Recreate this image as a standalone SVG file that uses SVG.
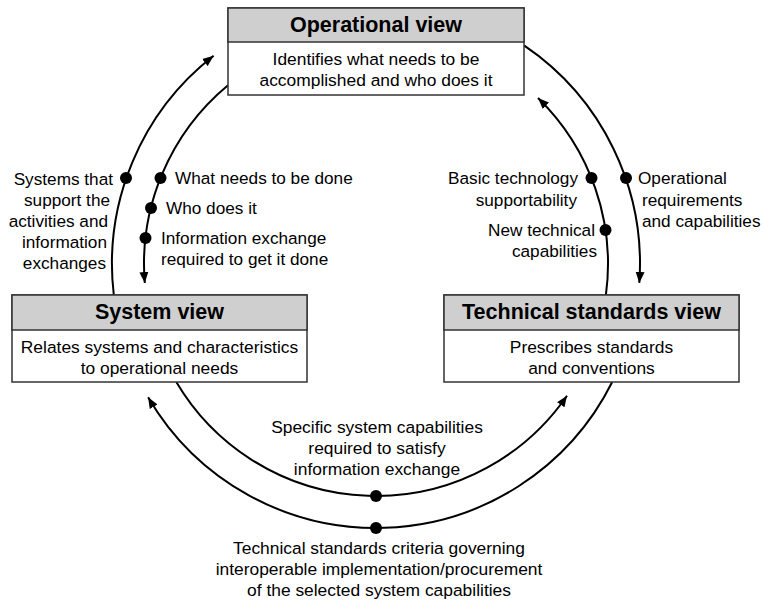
<svg xmlns="http://www.w3.org/2000/svg" width="764" height="602" viewBox="0 0 764 602">
<style>
.hdr{fill:#cfcfcf;stroke:#333;stroke-width:1.5}
.body{fill:#fff;stroke:#333;stroke-width:1.5}
.ht{font-family:"Liberation Sans",Arial,sans-serif;font-weight:bold;font-size:21.5px;fill:#000;text-anchor:middle}
.bt{font-family:"Liberation Sans",Arial,sans-serif;font-size:17.4px;fill:#000;text-anchor:middle}
.lb{font-family:"Liberation Sans",Arial,sans-serif;font-size:17.2px;fill:#000}
.arc{fill:none;stroke:#000;stroke-width:2}
.dot{fill:#000}
</style>
<defs>
<marker id="ah" markerUnits="userSpaceOnUse" markerWidth="12" markerHeight="10" refX="11" refY="5" orient="auto">
<path d="M0,0.5 L11,5 L0,9.5 z" fill="#000"/>
</marker>
</defs>
<rect width="764" height="602" fill="#fff"/>
<g id="connectors">
<path class="arc" d="M113.8,295 A264,264 0 0 1 213.6,55.8" marker-end="url(#ah)"/>
<path class="arc" d="M524,45.4 A264,264 0 0 1 639.3,282.9" marker-end="url(#ah)"/>
<path class="arc" d="M612.2,382 A264,264 0 0 1 148.1,397.2" marker-end="url(#ah)"/>
<path class="arc" d="M228,85.3 A232,232 0 0 0 144.8,283" marker-end="url(#ah)"/>
<path class="arc" d="M605.9,295 A232,232 0 0 0 538,98" marker-end="url(#ah)"/>
<path class="arc" d="M176.3,382 A232,232 0 0 0 567,395.7" marker-end="url(#ah)"/>
<circle class="dot" cx="126" cy="178" r="6"/>
<circle class="dot" cx="160.5" cy="178" r="6"/>
<circle class="dot" cx="151" cy="208" r="6"/>
<circle class="dot" cx="145.5" cy="238" r="6"/>
<circle class="dot" cx="591.5" cy="178" r="6"/>
<circle class="dot" cx="605.5" cy="230" r="6"/>
<circle class="dot" cx="626" cy="178" r="6"/>
<circle class="dot" cx="376" cy="496" r="6"/>
<circle class="dot" cx="376" cy="528" r="6"/>
</g>
<g id="labels">
<text class="lb" text-anchor="end"><tspan x="113" y="185">Systems that</tspan><tspan x="110" y="206">support the</tspan><tspan x="108" y="227">activities and</tspan><tspan x="107" y="248">information</tspan><tspan x="106" y="269">exchanges</tspan></text>
<text class="lb" x="175" y="184">What needs to be done</text>
<text class="lb" x="166" y="214">Who does it</text>
<text class="lb"><tspan x="161" y="244">Information exchange</tspan><tspan x="161" y="265">required to get it done</tspan></text>
<text class="lb" text-anchor="end"><tspan x="578" y="184">Basic technology</tspan><tspan x="577" y="206">supportability</tspan></text>
<text class="lb" text-anchor="end"><tspan x="595" y="236">New technical</tspan><tspan x="597" y="257">capabilities</tspan></text>
<text class="lb"><tspan x="638" y="184">Operational</tspan><tspan x="642" y="206">requirements</tspan><tspan x="642" y="227">and capabilities</tspan></text>
<text class="bt"><tspan x="377" y="433">Specific system capabilities</tspan><tspan x="377" y="454">required to satisfy</tspan><tspan x="377" y="475">information exchange</tspan></text>
<text class="bt"><tspan x="379" y="554">Technical standards criteria governing</tspan><tspan x="379" y="575">interoperable implementation/procurement</tspan><tspan x="379" y="596">of the selected system capabilities</tspan></text>
</g>
<g id="operational">
<rect class="body" x="228" y="8" width="296" height="87"/>
<rect class="hdr" x="228" y="8" width="296" height="34"/>
<text class="ht" x="376" y="32">Operational view</text>
<text class="bt"><tspan x="376" y="65">Identifies what needs to be</tspan><tspan x="376" y="86">accomplished and who does it</tspan></text>
</g>
<g id="system">
<rect class="body" x="12" y="295" width="295" height="87"/>
<rect class="hdr" x="12" y="295" width="295" height="35"/>
<text class="ht" x="159.5" y="319">System view</text>
<text class="bt"><tspan x="159.5" y="353">Relates systems and characteristics</tspan><tspan x="159.5" y="374">to operational needs</tspan></text>
</g>
<g id="technical">
<rect class="body" x="444" y="295" width="295" height="87"/>
<rect class="hdr" x="444" y="295" width="295" height="35"/>
<text class="ht" x="591.5" y="319">Technical standards view</text>
<text class="bt"><tspan x="591.5" y="353">Prescribes standards</tspan><tspan x="591.5" y="374">and conventions</tspan></text>
</g>
</svg>
